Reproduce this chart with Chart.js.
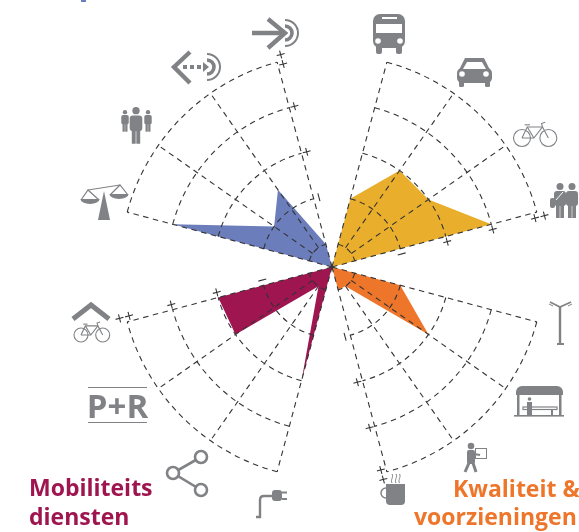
<!DOCTYPE html>
<html>
<head>
<meta charset="utf-8">
<style>
  html, body { margin: 0; background: #fff; }
  canvas { display: block; }
</style>
<script src="https://cdn.jsdelivr.net/npm/chart.js@4/dist/chart.umd.min.js"></script>
</head>
<body>
<canvas id="myChart" width="579" height="532"></canvas>
<script>
// one label every 5 degrees, spokes sit every 4th label inside a sector
const spokeCount = 72;
const hubLevel = 0.5;

const yellowSpokes = [3, 7, 11, 15];
const orangeSpokes = [21, 25, 29, 33];
const purpleSpokes = [39, 43, 47, 51];
const blueSpokes = [57, 61, 65, 69];

const yellowNames = ["bus", "auto", "fiets", "voetganger"];
const orangeNames = ["verlichting", "wachtruimte", "pakketpunt", "koffie"];
const purpleNames = ["laadpaal", "deelmobiliteit", "P+R", "fietsenstalling"];
const blueNames = ["sociale veiligheid", "gebruikers", "uitgaand", "inkomend"];

const yellowValues = [2, 3, 3, 4];
const orangeValues = [2, 3, 1, 1];
const purpleValues = [3, 1, 3, 3];
const blueValues = [4, 2, 2.5, 1];

const ringLevels = [1, 2, 3, 4, 5];
const markLabels = ["\u2212", "+", "+", "+", "+"];
const markLevels = [2, 3, 4, 4.93, 5.14];

const labels = new Array(spokeCount).fill("");
function sectorData(spokes, names, values) {
  const data = new Array(spokeCount).fill(null);
  data[(spokes[0] - 1 + spokeCount) % spokeCount] = hubLevel;
  spokes.forEach((spoke, i) => {
    data[spoke] = values[i];
    labels[spoke] = names[i];
  });
  return data;
}

const grey = "#808285";

function disc(ctx, x, y, r) {
  ctx.beginPath();
  ctx.arc(x, y, r, 0, Math.PI * 2);
  ctx.fill();
}
function ring(ctx, x, y, r) {
  ctx.beginPath();
  ctx.arc(x, y, r, 0, Math.PI * 2);
  ctx.stroke();
}
function line(ctx, points) {
  ctx.beginPath();
  points.forEach((p, i) => (i ? ctx.lineTo(p[0], p[1]) : ctx.moveTo(p[0], p[1])));
  ctx.stroke();
}
function poly(ctx, points) {
  ctx.beginPath();
  points.forEach((p, i) => (i ? ctx.lineTo(p[0], p[1]) : ctx.moveTo(p[0], p[1])));
  ctx.closePath();
  ctx.fill();
}
function round(ctx, x, y, w, h, r) {
  ctx.beginPath();
  ctx.roundRect(x, y, w, h, r);
  ctx.fill();
}
function person(ctx, x, top, scale) {
  disc(ctx, x, top + 3.5 * scale, 3.5 * scale);
  round(ctx, x - 6 * scale, top + 8 * scale, 12 * scale, 15 * scale, 3 * scale);
  ctx.fillRect(x - 4 * scale, top + 20 * scale, 3.7 * scale, 15 * scale);
  ctx.fillRect(x + 0.3 * scale, top + 20 * scale, 3.7 * scale, 15 * scale);
}
function bike(ctx, x, y, r) {
  const d = r * 3.1;
  ctx.lineWidth = 1.1;
  ring(ctx, x, y, r);
  ring(ctx, x + d, y, r);
  line(ctx, [[x, y], [x + d * 0.2, y - r * 1.3], [x + d * 0.78, y - r * 1.3], [x + d, y]]);
  line(ctx, [[x, y], [x + d * 0.45, y], [x + d * 0.78, y - r * 1.3]]);
  line(ctx, [[x + d * 0.2, y - r * 1.3], [x + d * 0.45, y]]);
  line(ctx, [[x + d * 0.1, y - r * 1.55], [x + d * 0.3, y - r * 1.55]]);
  line(ctx, [[x + d * 0.78, y - r * 1.3], [x + d * 0.74, y - r * 1.7], [x + d * 0.88, y - r * 1.85]]);
}
function signal(ctx, x, y) {
  ctx.lineWidth = 2;
  ctx.beginPath();
  ctx.arc(x, y, 13, -Math.PI / 2, Math.PI / 2);
  ctx.stroke();
  ctx.lineWidth = 3.6;
  ctx.beginPath();
  ctx.arc(x, y, 7, -Math.PI / 2, Math.PI / 2);
  ctx.stroke();
}

function drawIcons(ctx) {
  ctx.save();
  ctx.fillStyle = grey;
  ctx.strokeStyle = grey;
  ctx.lineCap = "butt";

  // bus
  round(ctx, 373, 14, 32, 34, 7);
  round(ctx, 376, 44, 6, 10, 2);
  round(ctx, 396, 44, 6, 10, 2);
  ctx.fillStyle = "#fff";
  ctx.fillRect(376, 24, 26, 9);
  ctx.fillRect(382, 17, 15, 2);
  disc(ctx, 378, 41, 2.8);
  disc(ctx, 400, 41, 2.8);
  ctx.fillStyle = grey;

  // car
  round(ctx, 457, 68, 35, 15, 5);
  poly(ctx, [[459, 70], [465, 58], [484, 58], [490, 70]]);
  round(ctx, 459, 80, 5, 7, 1.5);
  round(ctx, 485, 80, 5, 7, 1.5);
  ctx.fillStyle = "#fff";
  poly(ctx, [[463, 69], [467, 62], [482, 62], [486, 69]]);
  disc(ctx, 462, 74, 2.8);
  disc(ctx, 486, 74, 2.8);
  ctx.fillStyle = grey;

  // bike
  bike(ctx, 522, 138, 8.5);

  // pedestrians
  person(ctx, 560, 183, 1);
  person(ctx, 572, 183, 1);
  round(ctx, 550, 198, 5, 10, 2);
  ctx.strokeStyle = "#fff";
  ctx.lineWidth = 1;
  line(ctx, [[556, 200], [563, 192]]);
  ctx.strokeStyle = grey;

  // street lamp
  ctx.lineWidth = 2.4;
  line(ctx, [[560, 343], [560, 306]]);
  ctx.lineWidth = 1.6;
  line(ctx, [[550, 302], [560, 307], [571, 302]]);
  ctx.fillRect(557, 343, 7, 2);
  ctx.lineWidth = 1;
  line(ctx, [[549, 304], [553, 306]]);
  line(ctx, [[568, 306], [572, 304]]);

  // shelter
  ctx.beginPath();
  ctx.roundRect(516, 386, 47, 9, [6, 6, 0, 0]);
  ctx.fill();
  ctx.fillRect(517, 395, 2.5, 20);
  ctx.fillRect(559, 395, 2.5, 20);
  ctx.fillRect(514, 415, 50, 1.6);
  ctx.lineWidth = 1.2;
  ctx.strokeRect(523, 407, 34, 2.5);
  ctx.fillRect(527, 409, 2, 6);
  ctx.fillRect(551, 409, 2, 6);
  disc(ctx, 529.5, 399, 1.8);
  ctx.fillRect(527, 402, 5, 13);

  // carrying person
  disc(ctx, 471, 446, 3.3);
  round(ctx, 467, 450, 8, 14, 2);
  ctx.lineWidth = 3;
  line(ctx, [[469, 463], [465, 472]]);
  line(ctx, [[473, 463], [476, 472]]);
  ctx.lineWidth = 2;
  line(ctx, [[474, 454], [480, 455]]);
  ctx.lineWidth = 1;
  ctx.strokeRect(475.5, 448.5, 11, 10);

  // coffee cup
  ctx.lineWidth = 1.5;
  ring(ctx, 386, 493, 5);
  ctx.beginPath();
  ctx.roundRect(386, 484, 19, 21, [0, 0, 4, 4]);
  ctx.fill();
  ctx.lineWidth = 1;
  [392, 396, 399.5].forEach((x) => {
    ctx.beginPath();
    ctx.moveTo(x, 474);
    ctx.bezierCurveTo(x + 2, 477, x - 2, 480, x, 483);
    ctx.stroke();
  });

  // plug
  ctx.lineWidth = 2.4;
  ctx.beginPath();
  ctx.moveTo(256, 517);
  ctx.lineTo(260, 517);
  ctx.lineTo(260, 500);
  ctx.quadraticCurveTo(260, 496, 264, 496);
  ctx.lineTo(273, 496);
  ctx.stroke();
  round(ctx, 272, 490, 10, 11, 3);
  ctx.fillRect(282, 491.5, 5, 2);
  ctx.fillRect(282, 498, 5, 2);

  // sharing
  ctx.lineWidth = 2.6;
  line(ctx, [[201, 457], [173, 473], [201, 490]]);
  [[201, 457], [173, 473], [201, 490]].forEach((p) => {
    ctx.fillStyle = "#fff";
    disc(ctx, p[0], p[1], 6);
    ring(ctx, p[0], p[1], 6);
  });
  ctx.fillStyle = grey;

  // P+R
  ctx.fillRect(88, 387, 59, 1);
  ctx.fillRect(88, 422, 59, 1);
  ctx.font = "bold 33px 'Open Sans'";
  ctx.textAlign = "center";
  ctx.textBaseline = "alphabetic";
  ctx.fillText("P+R", 117.5, 418);

  // covered bike parking
  ctx.lineWidth = 5;
  line(ctx, [[73, 319], [91, 305], [109, 319]]);
  bike(ctx, 81, 335, 7);

  // scales
  ctx.lineWidth = 1.2;
  line(ctx, [[88, 190], [120, 185]]);
  line(ctx, [[81, 200], [88, 190], [99, 200]]);
  line(ctx, [[110, 195], [120, 185], [128, 195]]);
  poly(ctx, [[104, 191], [98, 220], [110, 220]]);
  [[90, 199], [119, 194]].forEach((p) => {
    ctx.beginPath();
    ctx.ellipse(p[0], p[1], 9.5, 5, 0, 0, Math.PI);
    ctx.fill();
  });

  // group of people
  person(ctx, 125, 110, 0.62);
  person(ctx, 148, 110, 0.62);
  person(ctx, 136, 107, 1.05);

  // outgoing arrow
  ctx.lineWidth = 4.4;
  line(ctx, [[190, 52], [174, 67], [190, 83]]);
  [183, 190, 197].forEach((x) => ctx.fillRect(x, 65, 4, 4));
  poly(ctx, [[203, 62], [209, 67], [203, 72]]);
  signal(ctx, 207, 67);

  // incoming arrow
  ctx.lineWidth = 4.4;
  line(ctx, [[252, 33], [285, 33]]);
  line(ctx, [[268, 19], [285, 33], [268, 48]]);
  signal(ctx, 285, 33);

  ctx.restore();
}

const sectorGrid = {
  id: "sectorGrid",
  beforeDatasetsDraw(chart) {
    drawIcons(chart.ctx);
  },
  afterDatasetsDraw(chart) {
    const ctx = chart.ctx;
    const scale = chart.scales.r;
    const sectors = [yellowSpokes, orangeSpokes, purpleSpokes, blueSpokes];
    ctx.save();
    ctx.strokeStyle = "#333335";
    ctx.lineWidth = 1.1;
    ctx.setLineDash([5.5, 4.5]);
    sectors.forEach((spokes) => {
      const firstAngle = scale.getIndexAngle(spokes[0]) - Math.PI / 2;
      const lastAngle = scale.getIndexAngle(spokes[3]) - Math.PI / 2;
      ringLevels.forEach((level) => {
        ctx.beginPath();
        ctx.arc(scale.xCenter, scale.yCenter, scale.getDistanceFromCenterForValue(level), firstAngle, lastAngle);
        ctx.stroke();
      });
      spokes.forEach((spoke, i) => {
        const inner = i === 0 || i === 3 ? hubLevel : ringLevels[0];
        const from = scale.getPointPositionForValue(spoke, inner);
        const to = scale.getPointPositionForValue(spoke, ringLevels[4]);
        ctx.beginPath();
        ctx.moveTo(from.x, from.y);
        ctx.lineTo(to.x, to.y);
        ctx.stroke();
      });

      // the signs sit just clockwise of the last spoke
      const last = spokes[3];
      const angle = scale.getIndexAngle(last);
      ctx.setLineDash([]);
      ctx.fillStyle = "#333335";
      ctx.font = "13px 'DejaVu Sans'";
      ctx.textAlign = "center";
      ctx.textBaseline = "middle";
      markLabels.forEach((mark, i) => {
        const p = scale.getPointPositionForValue(last, markLevels[i]);
        ctx.save();
        ctx.translate(p.x + 6 * Math.cos(angle), p.y + 6 * Math.sin(angle));
        ctx.rotate(angle - Math.PI / 2);
        ctx.fillText(mark, 0, 0);
        ctx.restore();
      });
      ctx.setLineDash([5.5, 4.5]);
    });
    ctx.restore();

    // sector titles
    ctx.save();
    ctx.font = "bold 23px 'Open Sans'";
    ctx.textAlign = "left";
    ctx.textBaseline = "alphabetic";
    ctx.fillStyle = "#9e154f";
    ctx.fillText("Mobiliteits", 29, 496);
    ctx.fillText("diensten", 29, 525);
    ctx.fillStyle = "#ee762b";
    ctx.fillText("Kwaliteit &", 453, 497);
    ctx.fillText("voorzieningen", 414, 525);
    // rest of the clipped title at the very top
    ctx.fillStyle = "#6c7dbb";
    ctx.fillRect(81, 0, 5, 2);
    ctx.restore();
  },
};

const ctx = document.getElementById("myChart");

const myChart = new Chart(ctx, {
  type: "radar",
  data: {
    labels: labels,
    datasets: [
      { label: "yellow", data: sectorData(yellowSpokes, yellowNames, yellowValues), backgroundColor: "#e9ae2b" },
      { label: "orange", data: sectorData(orangeSpokes, orangeNames, orangeValues), backgroundColor: "#ee762b" },
      { label: "purple", data: sectorData(purpleSpokes, purpleNames, purpleValues), backgroundColor: "#9e154f" },
      { label: "blue", data: sectorData(blueSpokes, blueNames, blueValues), backgroundColor: "#6c7dbb" },
    ],
  },
  options: {
    responsive: false,
    animation: false,
    layout: { padding: { left: 120, right: 35, top: 55, bottom: 53 } },
    datasets: {
      radar: { fill: "start", spanGaps: true, borderWidth: 0, pointRadius: 0, pointHitRadius: 0, tension: 0 },
    },
    plugins: { legend: { display: false }, tooltip: { enabled: false } },
    scales: {
      r: {
        min: hubLevel,
        max: 5,
        startAngle: 0,
        grid: { display: false, circular: true },
        angleLines: { display: false },
        pointLabels: { display: false },
        ticks: { display: false },
      },
    },
  },
  plugins: [sectorGrid],
});
</script>
</body>
</html>
